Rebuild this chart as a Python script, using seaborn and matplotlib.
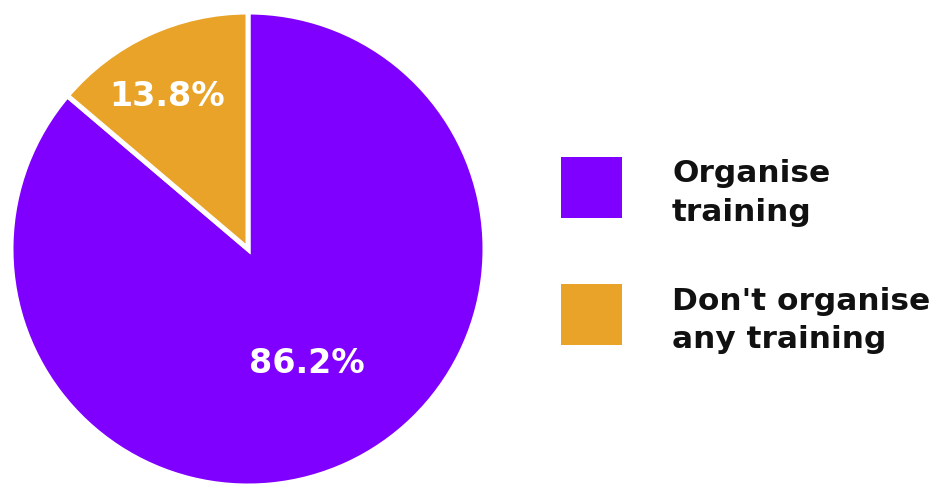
import matplotlib
matplotlib.use("Agg")
import matplotlib.pyplot as plt
from matplotlib.patches import Rectangle
import seaborn as sns
import numpy as np

categories = ["Organise\ntraining", "Don't organise\nany training"]
shares = [86.2, 13.8]
colors = ["#8000FF", "#E8A328"]

sns.set_theme(style="white")
plt.rcParams["font.family"] = ["DejaVu Sans"]

W, H = 947, 485
fig = plt.figure(figsize=(W / 100, H / 100), dpi=100)


def fx(px):
    return px / W


def fy(py):
    return 1 - py / H


# pie area: centre and radius in pixels
cx, cy, r = 248, 250, 237
ax = fig.add_axes([(cx - r) / W, (H - cy - r) / H, 2 * r / W, 2 * r / H])
wedges, _ = ax.pie(
    shares, colors=colors, startangle=90, counterclock=False,
    radius=1.0, wedgeprops=dict(edgecolor="white", linewidth=3.6),
)
for w in wedges:
    w.set_clip_on(False)
ax.set_xlim(-1, 1)
ax.set_ylim(-1, 1)
ax.set_aspect("equal")
ax.axis("off")

# percentage labels inside each wedge (baseline anchored)
label_dist = [0.577, 0.696]
angle_nudge = [0.6, 4.7]
for w, v, d, nud in zip(wedges, shares, label_dist, angle_nudge):
    mid = np.deg2rad((w.theta1 + w.theta2) / 2 + nud)
    ax.text(d * np.cos(mid), d * np.sin(mid), f"{v:.1f}%",
            ha="center", va="baseline", color="white",
            fontsize=24, fontweight="bold")

# legend: colour squares with two-line labels
box_tops = [158, 285]
first_baselines = [182, 310]
line_gaps = [39, 38]
for cat, col, top, base, gap in zip(categories, colors, box_tops,
                                    first_baselines, line_gaps):
    fig.add_artist(Rectangle((fx(561), fy(top + 61)), 61 / W, 61 / H,
                             transform=fig.transFigure, facecolor=col,
                             edgecolor="none"))
    for i, line in enumerate(cat.split("\n")):
        fig.text(fx(672), fy(base + i * gap), line, ha="left",
                 va="baseline", fontsize=22.5, fontweight="bold",
                 color="#111111")

fig.savefig("out.png", dpi=100, facecolor="white")
